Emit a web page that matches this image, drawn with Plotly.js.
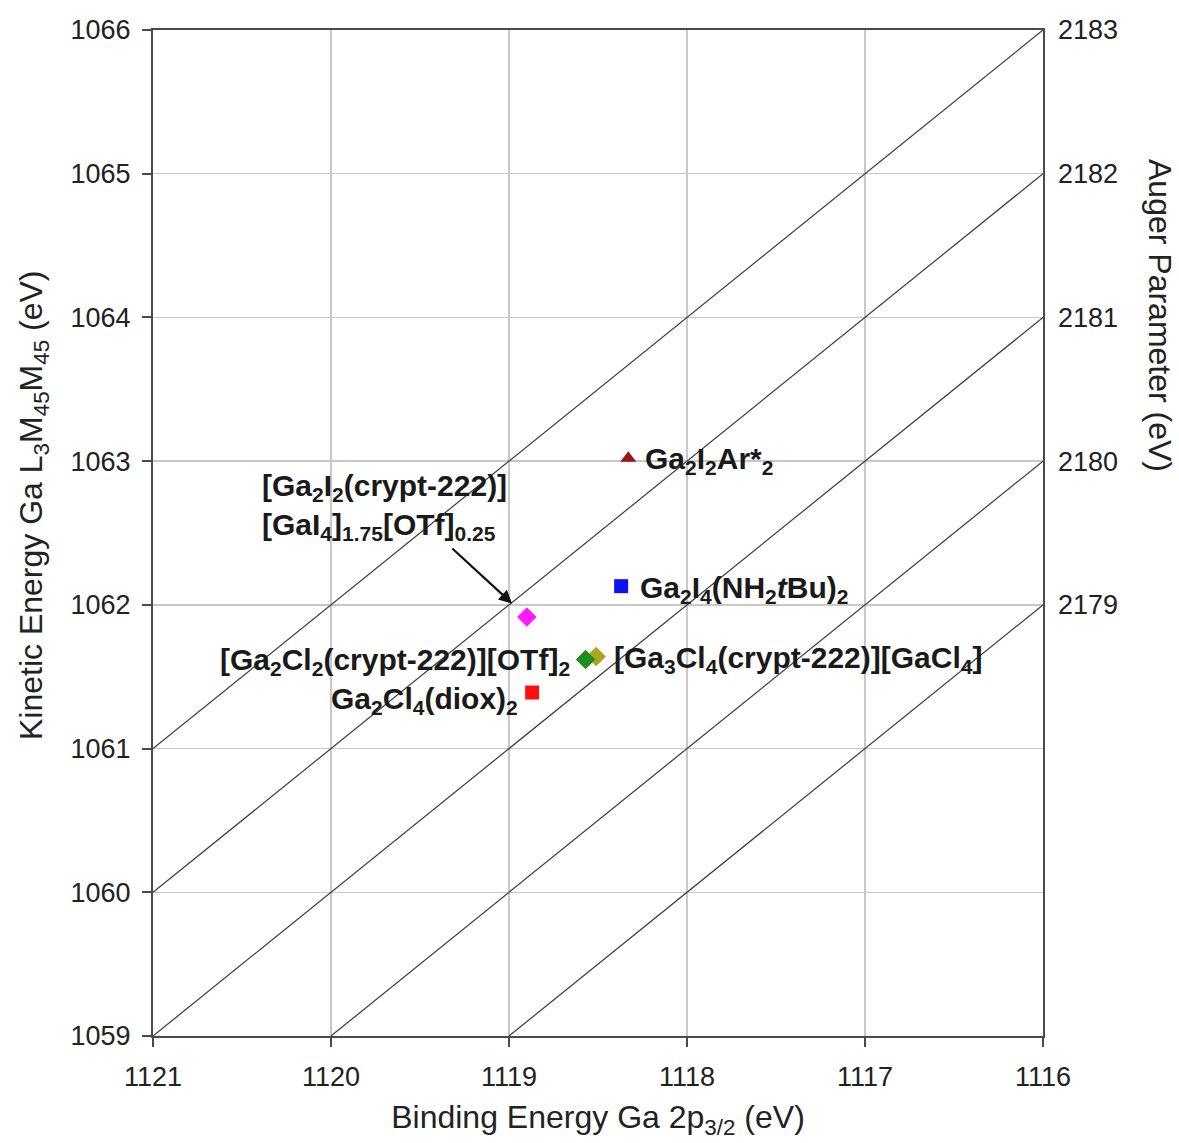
<!DOCTYPE html>
<html><head><meta charset="utf-8">
<script src="https://cdn.plot.ly/plotly-3.0.1.min.js"></script>
<style>html,body{margin:0;padding:0;background:#fff}</style>
</head><body><div id="chart" style="width:1179px;height:1143px"></div>
<script>
// ---- data ----
const compoundNames = [
  "Ga2I2Ar*2",
  "Ga2I4(NH2tBu)2",
  "[Ga2I2(crypt-222)][GaI4]1.75[OTf]0.25",
  "[Ga3Cl4(crypt-222)][GaCl4]",
  "[Ga2Cl2(crypt-222)][OTf]2",
  "Ga2Cl4(diox)2"
];
const bindingEnergy = [1118.33, 1118.37, 1118.90, 1118.51, 1118.57, 1118.87];
const kineticEnergy = [1063.02, 1062.13, 1061.915, 1061.64, 1061.62, 1061.39];
const labelTexts = [
  "<b>Ga<sub>2</sub>I<sub>2</sub>Ar*<sub>2</sub></b>",
  "<b>Ga<sub>2</sub>I<sub>4</sub>(NH<sub>2</sub><i>t</i>Bu)<sub>2</sub></b>",
  "<b>[Ga<sub>2</sub>I<sub>2</sub>(crypt-222)]</b><br><b>[GaI<sub>4</sub>]<sub>1.75</sub>[OTf]<sub>0.25</sub></b>",
  "<b>[Ga<sub>3</sub>Cl<sub>4</sub>(crypt-222)][GaCl<sub>4</sub>]</b>",
  "<b>[Ga<sub>2</sub>Cl<sub>2</sub>(crypt-222)][OTf]<sub>2</sub></b>",
  "<b>Ga<sub>2</sub>Cl<sub>4</sub>(diox)<sub>2</sub></b>"
];
const augerLineValues = [2182, 2181, 2180, 2179, 2178];
const xTickVals = [1121, 1120, 1119, 1118, 1117, 1116];
const yTickVals = [1059, 1060, 1061, 1062, 1063, 1064, 1065, 1066];
const augerTickVals = [2179, 2180, 2181, 2182, 2183];
const xRange = [1121, 1116];
const yRange = [1059, 1066];
const augerRange = [2176, 2183];

// ---- styles ----
const markerStyles = [
  {symbol: "triangle-up", color: "#9a1515", size: 14},
  {symbol: "square", color: "#0a14f0", size: 14},
  {symbol: "diamond", color: "#ff1aff", size: 15},
  {symbol: "diamond", color: "#a8a81e", size: 15},
  {symbol: "diamond", color: "#1e8c1e", size: 15},
  {symbol: "square", color: "#ff0f0f", size: 14}
];
const labelPlacement = [
  {xanchor: "left", xshift: 15, yshift: -2},
  {xanchor: "left", xshift: 17, yshift: -3},
  null,
  {xanchor: "left", xshift: 16, yshift: -3},
  {xanchor: "right", xshift: -14, yshift: -2},
  {xanchor: "right", xshift: -12, yshift: -8}
];

const FONT = "Liberation Sans, Arial, sans-serif";
const traces = [];

// Auger parameter lines (BE + KE = const), clipped to the plot ranges
augerLineValues.forEach(ap => {
  const xLo = Math.min(...xRange), xHi = Math.max(...xRange);
  const yLo = Math.min(...yRange), yHi = Math.max(...yRange);
  const xa = Math.min(xHi, ap - yLo), ya = ap - xa;
  const xb = Math.max(xLo, ap - yHi), yb = ap - xb;
  traces.push({x: [xa, xb], y: [ya, yb], mode: "lines", type: "scatter", showlegend: false,
    line: {color: "#3a3a3a", width: 1.2}, hoverinfo: "skip"});
});

// data points
bindingEnergy.forEach((be, i) => {
  traces.push({x: [be], y: [kineticEnergy[i]], mode: "markers", type: "scatter",
    name: compoundNames[i], showlegend: false,
    marker: {symbol: markerStyles[i].symbol, color: markerStyles[i].color, size: markerStyles[i].size, line: {width: 0}}});
});
// dummy trace for the right axis
traces.push({x: [xRange[0]], y: [augerRange[0]], yaxis: "y2", mode: "markers",
  marker: {opacity: 0}, showlegend: false, hoverinfo: "skip"});

const annFont = {family: FONT, size: 30, color: "#1a1a1a"};
const titleFont = {family: FONT, size: 32, color: "#222"};
const annotations = [];
labelTexts.forEach((t, i) => {
  const p = labelPlacement[i];
  if (!p) return;
  annotations.push({x: bindingEnergy[i], y: kineticEnergy[i], xref: "x", yref: "y",
    text: t, showarrow: false, xanchor: p.xanchor, yanchor: "middle",
    xshift: p.xshift, yshift: p.yshift, font: annFont});
});
// arrow to the crypt-222 iodide compound
annotations.push({x: bindingEnergy[2], y: kineticEnergy[2], xref: "x", yref: "y",
  text: "", showarrow: true, arrowhead: 2, arrowsize: 1.2, arrowwidth: 2.2, arrowcolor: "#111",
  ax: -76, ay: -70, standoff: 20});
annotations.push({x: bindingEnergy[2], y: kineticEnergy[2], xref: "x", yref: "y",
  text: labelTexts[2], showarrow: false, xanchor: "left", yanchor: "middle", align: "left",
  xshift: -267, yshift: 110, font: annFont});
// right axis title
annotations.push({x: 1, xref: "paper", y: 1, yref: "paper", xanchor: "center", yanchor: "middle",
  text: "Auger Parameter (eV)", textangle: 90, showarrow: false,
  xshift: 117, yshift: -285, font: titleFont});
// left axis title
annotations.push({x: 0, xref: "paper", y: 1, yref: "paper", xanchor: "center", yanchor: "middle",
  text: "Kinetic Energy Ga L<sub>3</sub>M<sub>45</sub>M<sub>45</sub> (eV)", textangle: -90, showarrow: false,
  xshift: -120, yshift: -475, font: titleFont});

const tickFont = {family: FONT, size: 27, color: "#222"};
const layout = {
  width: 1179, height: 1143,
  margin: {l: 153, r: 136, t: 30, b: 107},
  paper_bgcolor: "#fff", plot_bgcolor: "#fff",
  showlegend: false,
  xaxis: {
    range: xRange, tickvals: xTickVals, ticktext: xTickVals.map(String),
    showgrid: true, gridcolor: "#c8c8c8", gridwidth: 1.3,
    zeroline: false, showline: true, linecolor: "#4a4a4a", linewidth: 2, mirror: true,
    ticks: "outside", ticklen: 9, tickwidth: 2, tickcolor: "#4a4a4a",
    tickfont: tickFont, ticklabelstandoff: 7,
    title: {text: "Binding Energy Ga 2p<sub>3/2</sub> (eV)", font: titleFont, standoff: 14}
  },
  yaxis: {
    range: yRange, tickvals: yTickVals, ticktext: yTickVals.map(String),
    showgrid: true, gridcolor: "#c8c8c8", gridwidth: 1.3,
    zeroline: false, showline: true, linecolor: "#4a4a4a", linewidth: 2, mirror: true,
    ticks: "outside", ticklen: 9, tickwidth: 2, tickcolor: "#4a4a4a",
    tickfont: tickFont, ticklabelstandoff: 6
  },
  yaxis2: {
    overlaying: "y", side: "right", range: augerRange, tickvals: augerTickVals,
    ticktext: augerTickVals.map(String),
    showgrid: false, zeroline: false, showline: false, ticks: "",
    tickfont: tickFont, ticklabelstandoff: 14
  },
  annotations: annotations
};
Plotly.newPlot("chart", traces, layout, {staticPlot: true, displayModeBar: false});
</script>
</body></html>
